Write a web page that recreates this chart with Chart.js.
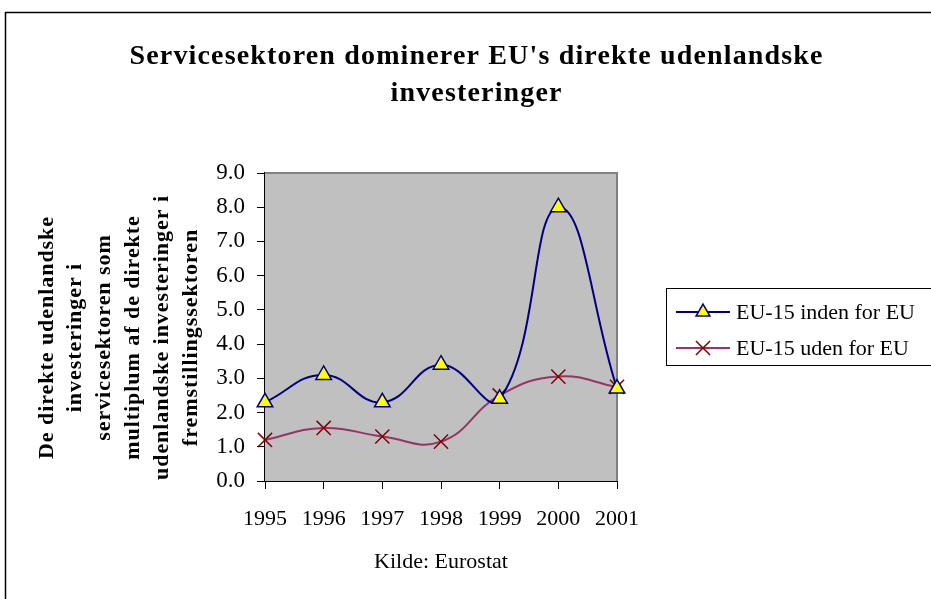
<!DOCTYPE html>
<html>
<head>
<meta charset="utf-8">
<script src="https://cdn.jsdelivr.net/npm/chart.js@4/dist/chart.umd.min.js"></script>
<style>
  html, body { margin: 0; padding: 0; background: #fff; }
  #wrap { width: 931px; height: 599px; position: relative; }
</style>
</head>
<body>
<div id="wrap"><canvas id="c" width="931" height="599"></canvas></div>
<script>
const years = ['1995', '1996', '1997', '1998', '1999', '2000', '2001'];
const insideEU = [2.3, 3.1, 2.3, 3.4, 2.4, 8.0, 2.7];
const outsideEU = [1.2, 1.55, 1.3, 1.15, 2.5, 3.05, 2.75];
const seriesNames = ['EU-15 inden for EU', 'EU-15 uden for EU'];
const titleLines = ["Servicesektoren dominerer EU's direkte udenlandske", 'investeringer'];
const yTitleLines = ['De direkte udenlandske', 'investeringer i', 'servicesektoren som',
  'multiplum af de direkte', 'udenlandske investeringer i', 'fremstillingssektoren'];
const xTitle = 'Kilde: Eurostat';

const SERIF = "'Liberation Serif', 'Times New Roman', serif";

function drawTri(ctx, x, y, r, fill, stroke) {
  ctx.save();
  ctx.beginPath();
  ctx.moveTo(x, y - r);
  ctx.lineTo(x + Math.sin(2 * Math.PI / 3) * r, y + r / 2);
  ctx.lineTo(x - Math.sin(2 * Math.PI / 3) * r, y + r / 2);
  ctx.closePath();
  ctx.fillStyle = fill; ctx.fill();
  ctx.strokeStyle = stroke; ctx.lineWidth = 1.5; ctx.stroke();
  ctx.restore();
}
function drawX(ctx, x, y, r, stroke) {
  ctx.save();
  const o = r * Math.SQRT1_2;
  ctx.beginPath();
  ctx.moveTo(x - o, y - o); ctx.lineTo(x + o, y + o);
  ctx.moveTo(x - o, y + o); ctx.lineTo(x + o, y - o);
  ctx.strokeStyle = stroke; ctx.lineWidth = 1.5; ctx.stroke();
  ctx.restore();
}

const decor = {
  id: 'decor',
  beforeDraw(chart) {
    const ctx = chart.ctx;
    ctx.save();
    ctx.fillStyle = '#fff';
    ctx.fillRect(0, 0, chart.width, chart.height);
    ctx.strokeStyle = '#000';
    ctx.lineWidth = 1.5;
    ctx.strokeRect(5.5, 12.5, 1000, 1000);
    ctx.restore();
  },
  beforeDatasetsDraw(chart) {
    const ctx = chart.ctx, a = chart.chartArea;
    ctx.save();
    ctx.fillStyle = '#C0C0C0';
    ctx.fillRect(a.left, a.top, a.right - a.left, a.bottom - a.top);
    ctx.strokeStyle = '#808080';
    ctx.lineWidth = 2;
    ctx.beginPath();
    ctx.moveTo(a.left, a.top);
    ctx.lineTo(a.right, a.top);
    ctx.lineTo(a.right, a.bottom);
    ctx.stroke();
    ctx.restore();
  },
  afterDraw(chart) {
    const ctx = chart.ctx;
    ctx.save();
    ctx.fillStyle = '#000';
    ctx.textAlign = 'center';
    ctx.textBaseline = 'alphabetic';
    // title
    ctx.font = 'bold 28px ' + SERIF;
    ctx.letterSpacing = '0px';
    const w0 = ctx.measureText(titleLines[0]).width;
    const ls = (693 - w0) / (titleLines[0].length - 1);
    ctx.letterSpacing = ls + 'px';
    ctx.fillText(titleLines[0], 476 + ls / 2, 64);
    ctx.fillText(titleLines[1], 476 + ls / 2, 101);
    // y axis title
    ctx.font = 'bold 22px ' + SERIF;
    ctx.letterSpacing = '0px';
    const wy = ctx.measureText(yTitleLines[4]).width;
    const lsy = (284 - wy) / (yTitleLines[4].length - 1);
    ctx.letterSpacing = lsy + 'px';
    ctx.textBaseline = 'middle';
    ctx.translate(0, 338);
    ctx.rotate(-Math.PI / 2);
    yTitleLines.forEach((t, i) => {
      ctx.fillText(t, lsy / 2, 47 + i * 28.8);
    });
    ctx.restore();

    // legend
    ctx.save();
    ctx.strokeStyle = '#000';
    ctx.lineWidth = 1;
    ctx.strokeRect(666.5, 288.5, 400, 77);
    const ds = chart.data.datasets;
    const rows = [312, 348];
    ctx.font = '22px ' + SERIF;
    ctx.textBaseline = 'middle';
    ctx.textAlign = 'left';
    ctx.fillStyle = '#000';
    ds.forEach((d, i) => {
      const y = rows[i];
      ctx.strokeStyle = d.borderColor;
      ctx.lineWidth = 2;
      ctx.beginPath();
      ctx.moveTo(676, y); ctx.lineTo(730, y); ctx.stroke();
      if (d.pointStyle === 'triangle') drawTri(ctx, 703, y, 8, d.pointBackgroundColor, d.pointBorderColor);
      else drawX(ctx, 703, y, 10, d.pointBorderColor);
      ctx.fillText(d.label, 736, y + 1);
    });
    ctx.restore();
  }
};

new Chart(document.getElementById('c'), {
  type: 'line',
  data: {
    labels: years,
    datasets: [
      {
        label: seriesNames[0],
        data: insideEU,
        borderColor: '#000080',
        borderWidth: 2,
        tension: 0.45,
        pointStyle: 'triangle',
        pointRadius: 9,
        pointBackgroundColor: '#FFFF00',
        pointBorderColor: '#000080',
        pointBorderWidth: 1.5,
        fill: false
      },
      {
        label: seriesNames[1],
        data: outsideEU,
        borderColor: '#993366',
        borderWidth: 2,
        tension: 0.45,
        pointStyle: 'crossRot',
        pointRadius: 10,
        pointBorderColor: '#800000',
        pointBorderWidth: 1.5,
        fill: false
      }
    ]
  },
  options: {
    responsive: false,
    animation: false,
    devicePixelRatio: 1,
    layout: { padding: { left: 20, right: 314, top: 173, bottom: 0 } },
    plugins: { legend: { display: false }, title: { display: false }, tooltip: { enabled: false } },
    scales: {
      x: {
        offset: false,
        grid: { drawOnChartArea: false, drawTicks: true, tickLength: 8, color: '#000', lineWidth: 1 },
        border: { display: true, color: '#000', width: 2 },
        ticks: { color: '#000', font: { family: SERIF, size: 22 }, padding: 17, maxRotation: 0, autoSkip: false },
        title: { display: true, text: xTitle, color: '#000', font: { family: SERIF, size: 22 }, padding: { top: 0, bottom: 24 } },
        afterFit(s) { s.height = 118; }
      },
      y: {
        min: 0, max: 9,
        grid: { drawOnChartArea: false, drawTicks: true, tickLength: 8, color: '#000', lineWidth: 1 },
        border: { display: true, color: '#000', width: 2 },
        ticks: { stepSize: 1, color: '#000', font: { family: SERIF, size: 23 }, padding: 12,
          callback: v => Number(v).toFixed(1) },
        afterFit(s) { s.width = 245; }
      }
    }
  },
  plugins: [decor]
});
</script>
</body>
</html>
